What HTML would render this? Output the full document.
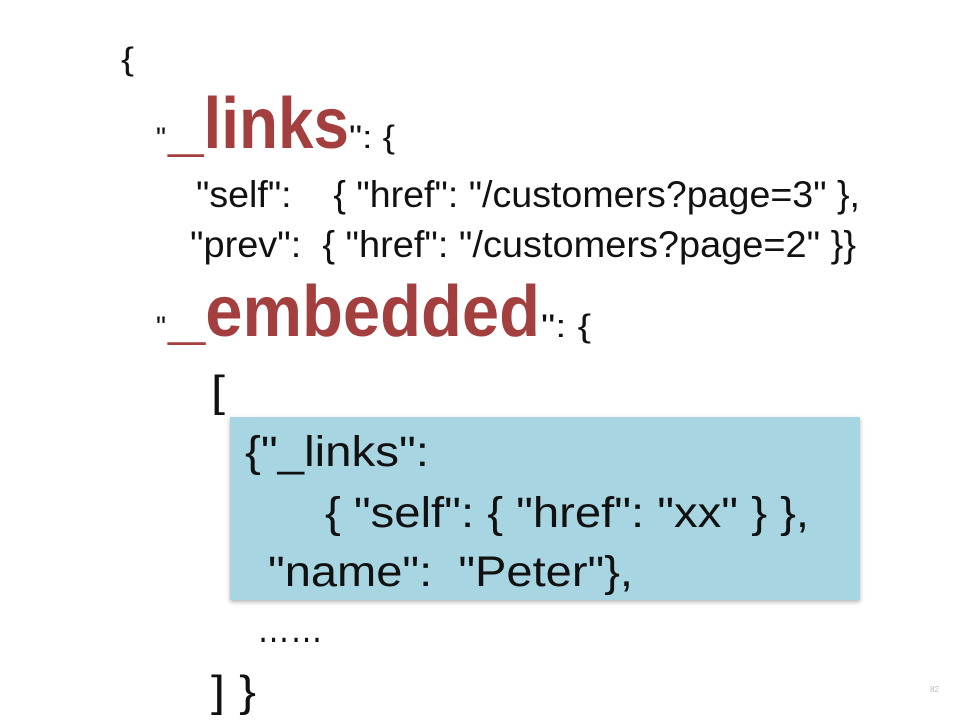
<!DOCTYPE html>
<html><head><meta charset="utf-8"><style>
html,body{margin:0;padding:0;background:#fff;width:959px;height:720px;overflow:hidden}
svg{display:block}
text{font-family:"Liberation Sans",sans-serif;white-space:pre}
</style></head><body>
<svg width="959" height="720" viewBox="0 0 959 720" xmlns="http://www.w3.org/2000/svg">
<defs><filter id="sh" x="-5%" y="-5%" width="110%" height="115%"><feDropShadow dx="0" dy="2" stdDeviation="2" flood-color="#000" flood-opacity="0.3"/></filter></defs>
<rect x="230" y="417" width="630" height="183" fill="#a8d5e2" filter="url(#sh)"/>
<g fill="#111">
<text x="121" y="70" font-size="32" textLength="13" lengthAdjust="spacingAndGlyphs">{</text>
<text x="156" y="148" font-size="30" textLength="10" lengthAdjust="spacingAndGlyphs">"</text>
<text x="349" y="148" font-size="32" textLength="46" lengthAdjust="spacingAndGlyphs">": {</text>
<text x="196" y="207" font-size="37" textLength="664" lengthAdjust="spacingAndGlyphs" xml:space="preserve">"self":    { "href": "/customers?page=3" },</text>
<text x="190" y="257" font-size="37" textLength="666" lengthAdjust="spacingAndGlyphs" xml:space="preserve">"prev":  { "href": "/customers?page=2" }}</text>
<text x="156" y="337" font-size="30" textLength="10" lengthAdjust="spacingAndGlyphs">"</text>
<text x="541" y="337" font-size="32" textLength="50" lengthAdjust="spacingAndGlyphs">": {</text>
<text x="211" y="406" font-size="44" textLength="14" lengthAdjust="spacingAndGlyphs">[</text>
<text x="245" y="466" font-size="43" textLength="184" lengthAdjust="spacingAndGlyphs">{"_links":</text>
<text x="325" y="527" font-size="43" textLength="484" lengthAdjust="spacingAndGlyphs" xml:space="preserve">{ "self": { "href": "xx" } },</text>
<text x="268" y="586" font-size="43" textLength="365" lengthAdjust="spacingAndGlyphs" xml:space="preserve">"name":  "Peter"},</text>
<text x="257" y="642" font-size="40" textLength="66" lengthAdjust="spacingAndGlyphs">……</text>
<text x="211" y="706" font-size="44" textLength="45" lengthAdjust="spacingAndGlyphs" xml:space="preserve">] }</text>
</g>
<g fill="#a33f3f" font-weight="bold">
<text x="168" y="148" font-size="72" textLength="181" lengthAdjust="spacingAndGlyphs">_links</text>
<text x="168" y="336" font-size="72" textLength="372" lengthAdjust="spacingAndGlyphs">_embedded</text>
</g>
<text x="930" y="692" font-size="8" fill="#bbb">82</text>
</svg>
</body></html>
